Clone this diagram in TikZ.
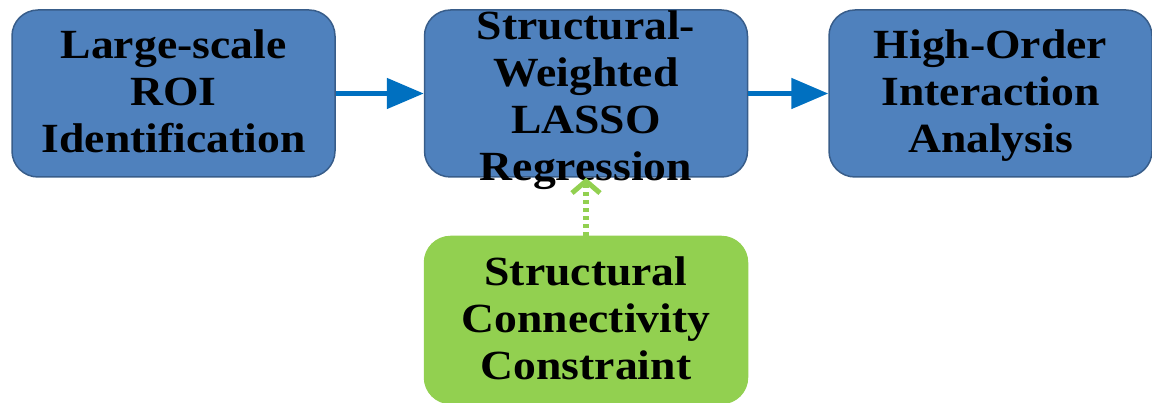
\documentclass[tikz,border=0pt]{standalone}
\usepackage{fontspec}
\setmainfont{Liberation Serif}
\newfontfamily\stagefont{Liberation Serif}[FakeStretch=1.1]
\usepackage{xcolor}
\usetikzlibrary{arrows.meta,positioning}

\definecolor{stageblue}{HTML}{4F81BD}
\definecolor{stageedge}{HTML}{385D8A}
\definecolor{flowblue}{HTML}{0070C0}
\definecolor{priorgreen}{HTML}{92D050}
% fixed-height text block, overflow spreads evenly above and below;
% struts keep the lines on the same baselines whatever the letters
\newcommand{\stagetext}[2][6pt]{\parbox[c][150pt][c]{320pt}{\centering\vspace{#1}\strut #2\strut}}

\begin{document}
\begin{tikzpicture}[x=1pt, y=1pt,
  every node/.style={font=\stagefont\bfseries\fontsize{41.5}{47}\selectfont},
  stage/.style={rounded corners=26pt, minimum width=323pt, minimum height=167pt, inner sep=0pt,
    fill=stageblue, draw=stageedge, line width=1.5pt},
  prior/.style={stage, fill=priorgreen, draw=priorgreen},
  flow/.style={-{Triangle[length=37pt,width=30pt]}, line width=5pt, flowblue},
  guide/.style={-{Straight Barb[length=12pt,width=28pt,line width=5pt]}, dash pattern=on 4pt off 4pt,
    line width=6pt, priorgreen}]
\useasboundingbox (0,0) rectangle (1152,-403);
% pipeline stages
\node[stage] (roi) at (173.5,-93.5) {\stagetext{Large-scale\\ROI\\Identification}};
\node[stage, right=88pt of roi] (lasso) {\stagetext[14pt]{Structural-\\Weighted\\LASSO\\Regression}};
\node[stage, right=80pt of lasso] (hoi) {\stagetext{High-Order\\Interaction\\Analysis}};
% prior knowledge feeding the regression
\node[prior, below=58pt of lasso] (scc) {\stagetext{Structural\\Connectivity\\Constraint}};
% connectors
\draw[flow] (roi) -- (lasso);
\draw[flow] (lasso) -- (hoi);
\draw[guide] (scc.north) -- (lasso.south);
\end{tikzpicture}
\end{document}
